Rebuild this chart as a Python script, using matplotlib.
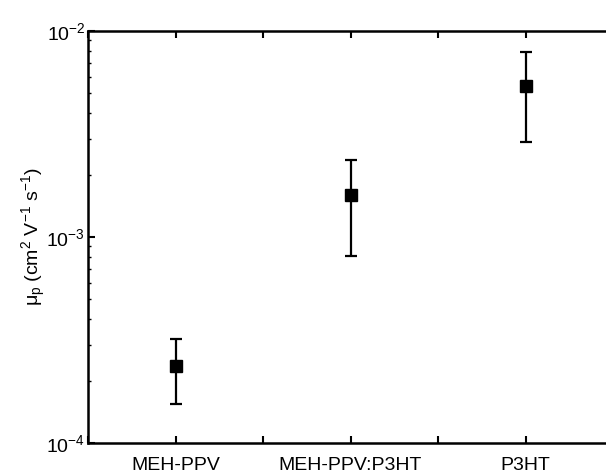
import matplotlib
matplotlib.use("Agg")
import matplotlib.pyplot as plt
from matplotlib.ticker import LogLocator, NullFormatter, FuncFormatter
import numpy as np

plt.rcParams["font.family"] = ["Liberation Sans", "DejaVu Sans"]
plt.rcParams["mathtext.fontset"] = "custom"
plt.rcParams["mathtext.rm"] = "Liberation Sans"
plt.rcParams["mathtext.it"] = "Liberation Sans"

materials = ["MEH-PPV", "MEH-PPV:P3HT", "P3HT"]
positions = [1, 2, 3]
mobility = [2.37e-4, 1.6e-3, 5.4e-3]
mobility_hi = [3.2e-4, 2.37e-3, 7.9e-3]
mobility_lo = [1.55e-4, 8.1e-4, 2.89e-3]

err_lo = [m - lo for m, lo in zip(mobility, mobility_lo)]
err_hi = [hi - m for m, hi in zip(mobility, mobility_hi)]

W, H = 606, 473
fig = plt.figure(figsize=(W / 100, H / 100), dpi=100)
ax = fig.add_axes([88 / W, 30 / H, (613 - 88) / W, (443 - 31) / H])

ax.errorbar(positions, mobility, yerr=[err_lo, err_hi], fmt="s", color="black",
            markersize=8.5, elinewidth=1.6, capsize=4, capthick=1.6)

ax.set_yscale("log")
ax.set_ylim(1e-4, 1e-2)
ax.set_xlim(0.5, 3.5)
ax.set_xticks([0.5, 1, 1.5, 2, 2.5, 3, 3.5])
ax.set_xticklabels(["", materials[0], "", materials[1], "", materials[2], ""])
ax.yaxis.set_major_locator(LogLocator(base=10, numticks=5))
ax.yaxis.set_major_formatter(
    FuncFormatter(lambda v, _: r"$10^{%d}$" % int(round(np.log10(v)))))
ax.yaxis.set_minor_locator(LogLocator(base=10, subs=range(2, 10), numticks=20))
ax.yaxis.set_minor_formatter(NullFormatter())

ax.tick_params(which="both", direction="in", top=True, right=True,
               width=1.5)
ax.tick_params(axis="x", labelsize=14, pad=10)
ax.tick_params(axis="y", labelsize=14, pad=2)
ax.tick_params(which="major", length=5)
ax.tick_params(which="minor", length=2.5, width=1.0)
for s in ax.spines.values():
    s.set_linewidth(1.8)

ax.set_ylabel(r"$\mu_p$ (cm$^2$ V$^{\mathrm{-1}}$ s$^{\mathrm{-1}}$)", fontsize=14, labelpad=-1)

fig.savefig("out.png", dpi=100)
